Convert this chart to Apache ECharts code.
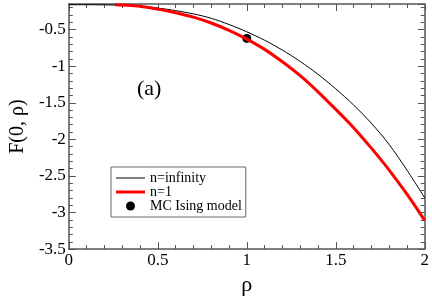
<!DOCTYPE html>
<html><head><meta charset="utf-8">
<script src="https://cdn.jsdelivr.net/npm/echarts@6/dist/echarts.min.js"></script>
<style>html,body{margin:0;padding:0;background:#fff}#c{width:432px;height:301px}</style>
</head><body><div id="c"></div>
<script>
const rhoInf = [0,0.1,0.2,0.3,0.4,0.5,0.6,0.7,0.8,0.9,1.0,1.1,1.2,1.3,1.4,1.5,1.6,1.7,1.8,1.9,2.0];
const fInf = [-0.16,-0.16,-0.162,-0.168,-0.18,-0.205,-0.24,-0.285,-0.345,-0.43,-0.53,-0.645,-0.78,-0.935,-1.11,-1.31,-1.53,-1.78,-2.07,-2.42,-2.80];
const rhoN1 = [0.26,0.3,0.4,0.5,0.6,0.7,0.8,0.9,1.0,1.1,1.2,1.3,1.4,1.5,1.6,1.7,1.8,1.9,2.0];
const fN1 = [-0.16,-0.165,-0.18,-0.22,-0.27,-0.33,-0.41,-0.51,-0.63,-0.77,-0.94,-1.13,-1.35,-1.59,-1.84,-2.12,-2.42,-2.75,-3.11];
const mcRho = [1.0];
const mcF = [-0.62];
const seriesNames = ['n=infinity','n=1','MC Ising model'];

const font = "Liberation Serif";
const axisCol = '#555';
const lab = {fontFamily:font, fontSize:17, color:'#000'};
function xAx(pos, show){
  return {type:'value', position:pos, min:0, max:2, interval:0.5,
    name: show ? 'ρ' : '', nameLocation:'middle', nameGap:20,
    nameTextStyle:{fontFamily:font, fontSize:22, color:'#000'},
    axisLine:{show:true, onZero:false, lineStyle:{color:axisCol, width:1.5}},
    axisTick:{show:true, inside:true, length:7, lineStyle:{color:axisCol}},
    minorTick:{show:true, splitNumber:5, length:4, lineStyle:{color:axisCol}},
    axisLabel:Object.assign({show:show, margin:3, textStyle:lab,
      formatter:function(v){return '{t|' + v + '}';}, rich:{t:lab}}, lab),
    splitLine:{show:false}};
}
function yAx(pos, show){
  return {type:'value', position:pos, min:-3.5, max:-0.15, interval:0.5,
    name: show ? 'F(0, ρ)' : '', nameLocation:'middle', nameGap:37,
    nameTextStyle:{fontFamily:font, fontSize:20, color:'#000'},
    axisLine:{show:true, onZero:false, lineStyle:{color:axisCol, width:1.5}},
    axisTick:{show:true, inside:true, length:7, lineStyle:{color:axisCol}},
    minorTick:{show:true, splitNumber:5, length:4, lineStyle:{color:axisCol}},
    axisLabel:Object.assign({show:show, margin:3, showMaxLabel:false, textStyle:lab,
      formatter:function(v){return '{t|' + v + '}';}, rich:{t:lab}}, lab),
    splitLine:{show:false}};
}
const chart = echarts.init(document.getElementById('c'), null, {renderer:'canvas'});
chart.setOption({
  animation:false,
  textStyle:{fontFamily:font},
  grid:{left:54, right:6, top:4, bottom:41, containLabel:false},
  xAxis:[xAx('bottom', true), xAx('top', false)],
  yAxis:[yAx('left', true), yAx('right', false)],
  legend:{orient:'vertical', left:111, top:167, padding:[4,4,4,5], itemGap:0,
    itemWidth:29, itemHeight:9,
    borderColor:'#666', borderWidth:1, backgroundColor:'#fff',
    textStyle:{fontFamily:font, fontSize:14, color:'#000'},
    data:[{name:seriesNames[0], icon:'path://M0,0H29V1H0Z'},
          {name:seriesNames[1], icon:'path://M0,0H29V3H0Z'},
          {name:seriesNames[2], icon:'circle'}]},
  graphic:[{type:'text', left:137, top:78, style:{text:'(a)', fontFamily:font, fontSize:22, fill:'#000'}}],
  series:[
    {name:seriesNames[0], type:'line', symbol:'none', data:rhoInf.map((r,i)=>[r,fInf[i]]), smooth:0.3,
      lineStyle:{color:'#000', width:1}, itemStyle:{color:'#000'}},
    {name:seriesNames[1], type:'line', symbol:'none', data:rhoN1.map((r,i)=>[r,fN1[i]]), smooth:0.3,
      lineStyle:{color:'#ff0000', width:3}, itemStyle:{color:'#ff0000'}},
    {name:seriesNames[2], type:'scatter', symbol:'circle', symbolSize:9, data:mcRho.map((r,i)=>[r,mcF[i]]),
      itemStyle:{color:'#000', opacity:1}}
  ]
});
</script></body></html>
